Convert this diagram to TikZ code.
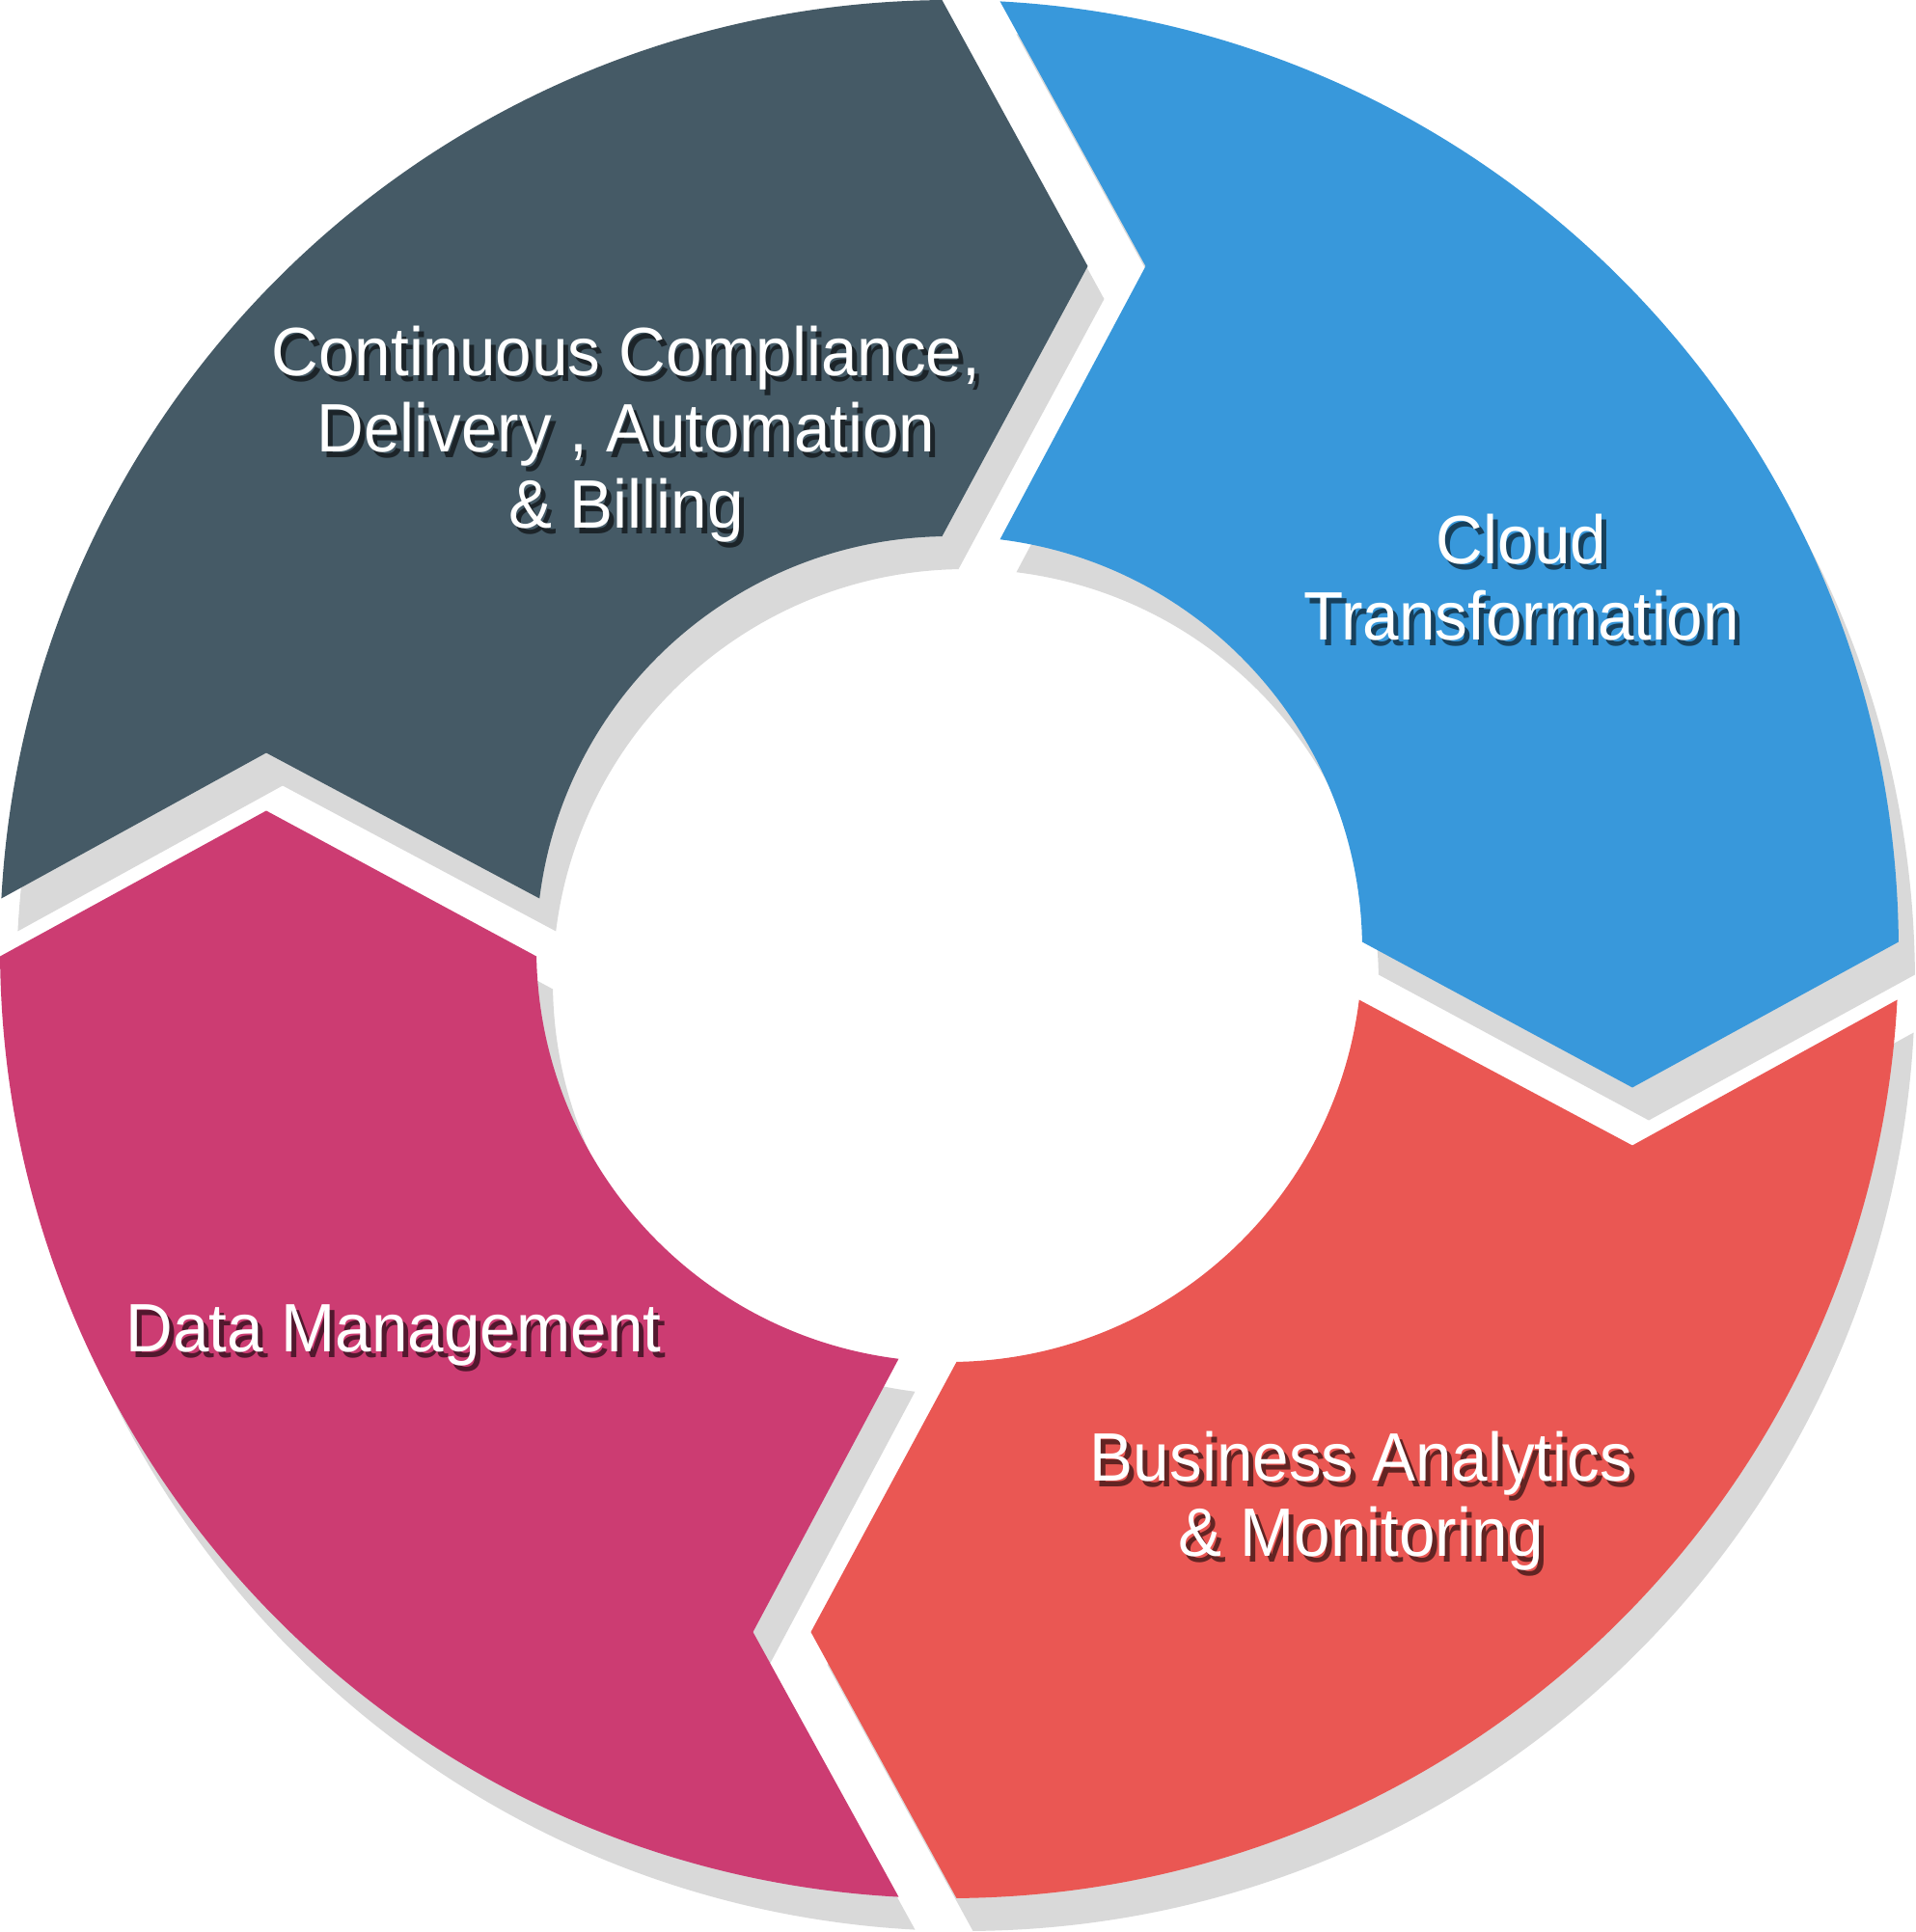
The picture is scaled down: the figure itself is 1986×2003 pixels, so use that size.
\documentclass[tikz,border=0pt]{standalone}
\usepackage{fontspec}
\setmainfont{Liberation Sans}[FakeStretch=0.95]
\definecolor{cgray}{HTML}{455A66}
\definecolor{cblue}{HTML}{3898DB}
\definecolor{cred}{HTML}{EA5753}
\definecolor{cmag}{HTML}{CC3C72}
\definecolor{cshadow}{HTML}{D9D9D9}
\newcommand\segpath{(86.94:984pt) arc[start angle=86.94, end angle=0.4367, radius=984pt] -- (708pt,-143.5pt) -- (1.004:428pt) arc[start angle=1.004, end angle=82.95, radius=428pt] -- (203.5pt,708pt) -- cycle}
\newcommand\shtxt[2]{\makebox[0pt][l]{\hspace*{5pt}\raisebox{-6pt}{\textcolor{#1}{#2}}}#2}
\tikzset{
  lbl/.style={anchor=base, text=white, inner sep=0pt, font=\fontsize{71pt}{79pt}\selectfont},
}
\begin{document}
\begin{tikzpicture}
\useasboundingbox (-984pt,-1019pt) rectangle (1002pt,984pt);
\fill[white] (-984pt,-1019pt) rectangle (1002pt,984pt);
% shadows
\foreach \rot in {90,0,-90,-180}{
  \fill[cshadow, shift={(17pt,-34pt)}, rotate=\rot] \segpath;
}
% segments
\fill[cgray, rotate=90] \segpath;
\fill[cblue] \segpath;
\fill[cred, rotate=-90] \segpath;
\fill[cmag, rotate=-180] \segpath;
% labels
\foreach \nm/\x/\y/\sc/\t in {g1/-335/594/cgray!40!black/{Continuous Compliance,}, g2/-335/515/cgray!40!black/{Delivery , Automation}, g3/-335/436/cgray!40!black/{\& Billing}, b1/593/399/cblue!42!black/{Cloud}, b2/593/320/cblue!42!black/{Transformation}, r1/427/-551/cred!42!black/{Business Analytics}, r2/427/-629/cred!42!black/{\& Monitoring}, m1/-576/-417/cmag!40!black/{Data Management}}{
  \node[lbl] (\nm) at (\x pt,\y pt) {\shtxt{\sc}{\t}};
}
\end{tikzpicture}
\end{document}
